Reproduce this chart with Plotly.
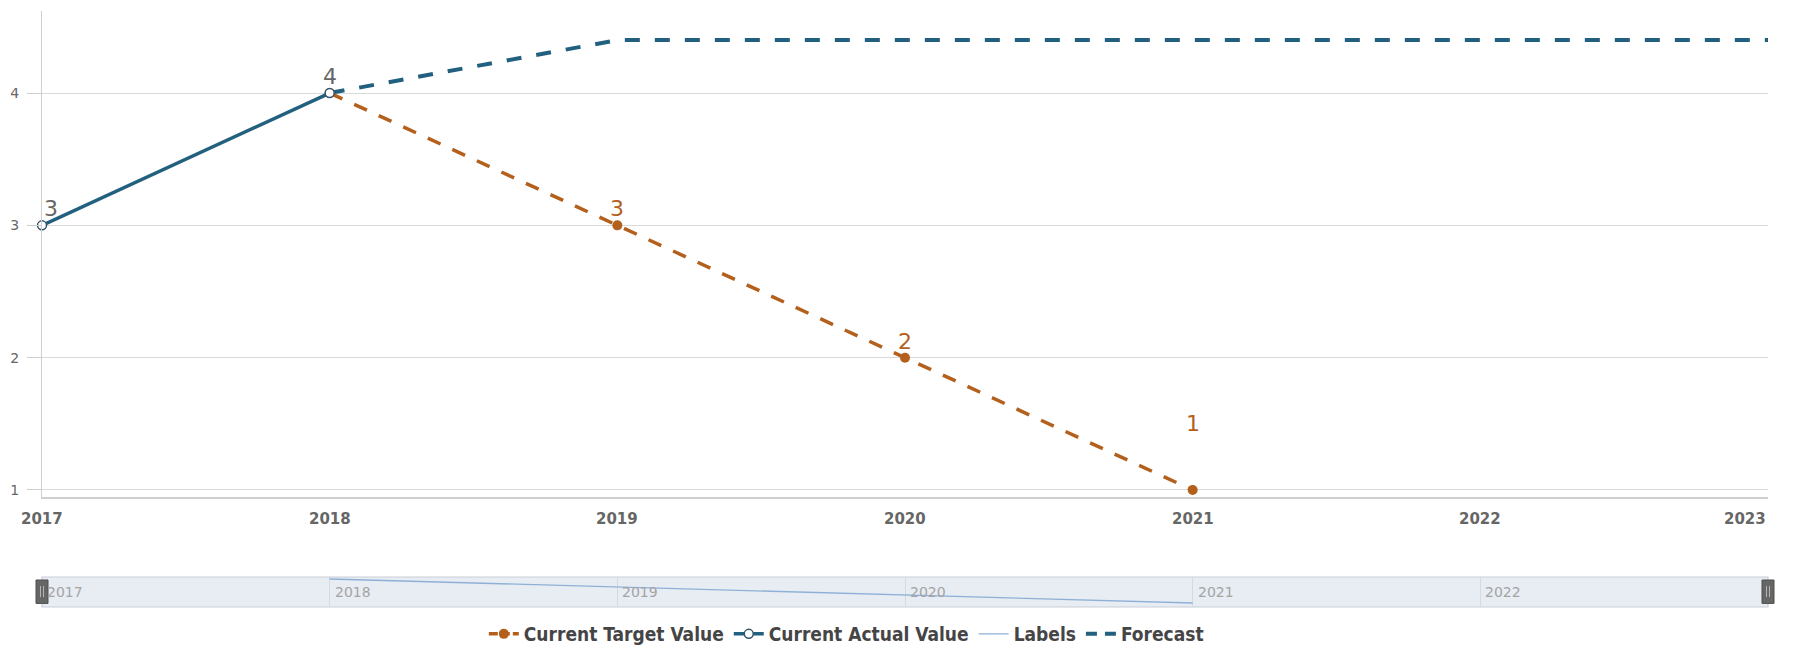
import plotly.graph_objects as go

# ---- data -------------------------------------------------------------
years = [2017, 2018, 2019, 2020, 2021, 2022, 2023]

actual_years = [2017, 2018]
actual_values = [3, 4]

target_years = [2018, 2019, 2020, 2021]
target_values = [4, 3, 2, 1]

forecast_years = [2018, 2019, 2020, 2021, 2022, 2023]
forecast_values = [4, 4.4, 4.4, 4.4, 4.4, 4.4]

# series shown in the navigator strip
labels_years = [2018, 2019, 2020, 2021]
labels_values = [4, 3, 2, 1]

y_ticks = [1, 2, 3, 4]

# ---- styling ----------------------------------------------------------
BLUE = "#22607f"
ORANGE = "#b4601d"
NAV_LINE = "#8fb0d6"
GRID = "#dadada"
AXIS = "#cfcfcf"
FONT = "DejaVu Sans, Verdana, sans-serif"
COND = "DejaVu Sans Condensed, Liberation Sans Narrow, DejaVu Sans, sans-serif"

W, H = 1794, 653
M_L, M_R, M_T, M_B = 42, 26, 11, 0
plot_h = H - M_T - M_B


def frac(px_from_top):
    """Paper fraction for a pixel row of the page."""
    return (H - M_B - px_from_top) / plot_h


main_domain = [frac(497), 1.0]
nav_domain = [frac(607), frac(577)]

fig = go.Figure()

fig.add_trace(go.Scatter(
    x=forecast_years, y=forecast_values, name="Forecast",
    mode="lines", line=dict(color=BLUE, width=4, dash="15px,15px"),
    cliponaxis=False, showlegend=False, hoverinfo="skip",
))
fig.add_trace(go.Scatter(
    x=target_years, y=target_values, name="Current Target Value",
    mode="lines+markers", line=dict(color=ORANGE, width=3.5, dash="14px,13px"),
    marker=dict(color=ORANGE, size=10, symbol="circle"),
    cliponaxis=False, showlegend=False,
))
fig.add_trace(go.Scatter(
    x=actual_years, y=actual_values, name="Current Actual Value",
    mode="lines+markers", line=dict(color=BLUE, width=3.5),
    marker=dict(color="white", size=9, symbol="circle",
                line=dict(color="#34546a", width=1.5)),
    cliponaxis=False, legendrank=2,
))
fig.add_trace(go.Scatter(
    x=labels_years, y=labels_values, name="Labels",
    mode="lines", line=dict(color=NAV_LINE, width=1.3),
    xaxis="x2", yaxis="y2", legendrank=3, hoverinfo="skip",
))

# legend keys for the dashed series, with dash lengths sized for the short key
fig.add_trace(go.Scatter(
    x=[None], y=[None], name="Current Target Value",
    mode="lines+markers", line=dict(color=ORANGE, width=3.5, dash="9px,3px"),
    marker=dict(color=ORANGE, size=10, symbol="circle"), legendrank=1,
))
fig.add_trace(go.Scatter(
    x=[None], y=[None], name="Forecast",
    mode="lines", line=dict(color=BLUE, width=4, dash="11px,8px"), legendrank=4,
))

annotations = []

# value labels on the points
actual_shift = {2017: 9}
for xv, yv in zip(actual_years, actual_values):
    annotations.append(dict(
        x=xv, y=yv, xref="x", yref="y", text=str(yv), showarrow=False,
        yanchor="bottom", xanchor="center", yshift=2,
        xshift=actual_shift.get(xv, 0),
        font=dict(family=FONT, size=22, color="#666666"),
    ))
target_lift = {2021: 52}
for xv, yv in zip(target_years[1:], target_values[1:]):
    annotations.append(dict(
        x=xv, y=yv, xref="x", yref="y", text=str(yv), showarrow=False,
        yanchor="bottom", xanchor="center", yshift=target_lift.get(xv, 2),
        font=dict(family=FONT, size=22, color=ORANGE),
    ))

# year labels under the main plot (last one kept inside the plot width)
for i, yr in enumerate(years):
    annotations.append(dict(
        x=yr, y=0, xref="x", yref="y domain", text=str(yr), showarrow=False,
        xanchor="right" if i == len(years) - 1 else "center",
        yanchor="middle", yshift=-22,
        font=dict(family=FONT, size=15, color="#666666", weight="bold"),
    ))

# year labels inside the navigator strip
for yr in years[:-1]:
    annotations.append(dict(
        x=yr, y=0.5, xref="x2", yref="y2 domain", text=str(yr), showarrow=False,
        xanchor="left", yanchor="middle", xshift=3,
        font=dict(family=FONT, size=14, color="#a4a4a4"),
    ))

shapes = [
    # navigator background
    dict(type="rect", xref="x2 domain", yref="y2 domain", x0=0, x1=1, y0=0, y1=1,
         fillcolor="#e8edf4", line=dict(color="#c9ced5", width=1.2), layer="below"),
]
# navigator handles at both ends of the range (paper refs so they are not clipped)
span = years[-1] - years[0]
for edge in (years[0], years[-1]):
    px = (edge - years[0]) / span
    shapes.append(dict(
        type="rect", xref="paper", yref="y2 domain", xsizemode="pixel", xanchor=px,
        x0=-6, x1=6, y0=0.12, y1=0.9,
        fillcolor="#666666", line=dict(color="#4e4e4e", width=1), layer="above"))
    for dx in (-1.5, 1.5):
        shapes.append(dict(
            type="line", xref="paper", yref="y2 domain", xsizemode="pixel", xanchor=px,
            x0=dx, x1=dx, y0=0.33, y1=0.7,
            line=dict(color="#b4b4b4", width=1), layer="above"))

fig.update_layout(
    width=W, height=H,
    margin=dict(l=M_L, r=M_R, t=M_T, b=M_B),
    paper_bgcolor="white", plot_bgcolor="white",
    showlegend=True,
    legend=dict(
        orientation="h", x=0.466, xanchor="center", y=0, yanchor="bottom",
        font=dict(family=COND, size=19, color="#454545", weight="bold"),
        itemclick=False, itemdoubleclick=False, tracegroupgap=0,
    ),
    xaxis=dict(
        domain=[0, 1], range=[years[0], years[-1]], anchor="y",
        showgrid=False, zeroline=False, showline=True, linecolor=AXIS, linewidth=1.5,
        showticklabels=False, ticks="",
    ),
    yaxis=dict(
        domain=main_domain, range=[0.947, 4.62], anchor="x",
        tickvals=y_ticks, showgrid=True, gridcolor=GRID, gridwidth=1,
        zeroline=False, showline=True, linecolor=AXIS, linewidth=1,
        ticks="outside", ticklen=14, tickcolor=AXIS, ticklabelstandoff=5,
        tickfont=dict(family=FONT, size=14, color="#666666"),
    ),
    xaxis2=dict(
        domain=[0, 1], range=[years[0], years[-1]], anchor="y2",
        tickvals=years, showgrid=True, gridcolor="#d4dae2", gridwidth=1,
        zeroline=False, showline=False, showticklabels=False, ticks="",
    ),
    yaxis2=dict(
        domain=nav_domain, range=[0.5, 4.25], anchor="x2",
        visible=False, showgrid=False, zeroline=False,
    ),
    annotations=annotations,
    shapes=shapes,
    hovermode=False,
)

fig.write_html("out.html", config={"displayModeBar": False})
